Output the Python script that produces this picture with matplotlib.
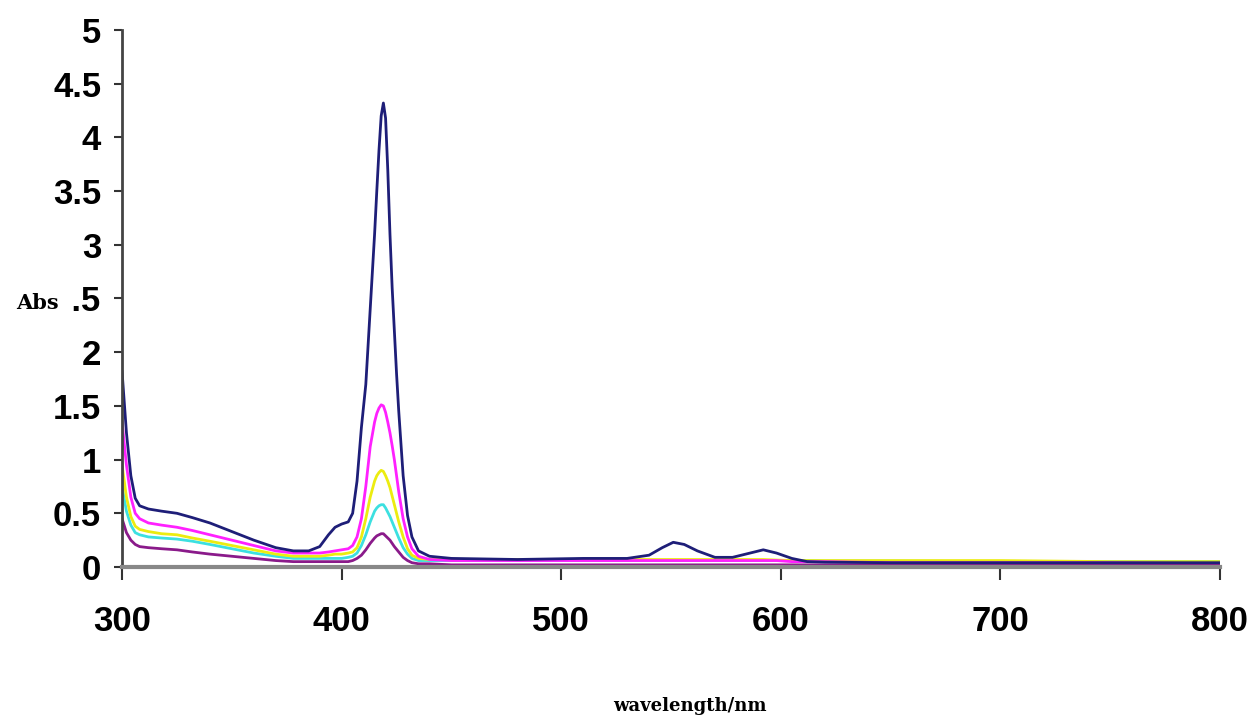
import matplotlib.pyplot as plt

wavelength = [300, 302, 304, 306, 308, 312, 318, 325, 332, 340, 350, 360, 370, 378, 385, 390,
              394, 397, 400, 403, 405, 407, 409, 411, 413, 415, 416, 417, 418, 419, 420, 421, 422,
              423, 424, 425, 426, 428, 430, 432, 435, 440, 450, 480, 510, 530, 540, 546, 551, 556, 562,
              570, 578, 586, 592, 598, 605, 612, 620, 650, 700, 750, 800]

abs_navy = [1.82, 1.25, 0.85, 0.64, 0.57, 0.54, 0.52, 0.50, 0.46, 0.41, 0.33, 0.25, 0.18, 0.15, 0.15, 0.19,
            0.30, 0.37, 0.40, 0.42, 0.50, 0.80, 1.30, 1.70, 2.40, 3.10, 3.50, 3.88, 4.20, 4.32, 4.18, 3.70, 3.10,
            2.60, 2.20, 1.80, 1.45, 0.85, 0.48, 0.28, 0.15, 0.10, 0.08, 0.07, 0.08, 0.08, 0.11, 0.18, 0.23, 0.21, 0.15,
            0.09, 0.09, 0.13, 0.16, 0.13, 0.08, 0.05, 0.045, 0.04, 0.04, 0.04, 0.04]

abs_magenta = [1.35, 0.95, 0.65, 0.50, 0.45, 0.41, 0.39, 0.37, 0.34, 0.30, 0.25, 0.20, 0.15, 0.13, 0.13, 0.13,
               0.14, 0.15, 0.16, 0.17, 0.20, 0.28, 0.45, 0.75, 1.12, 1.35, 1.43, 1.48, 1.51, 1.50, 1.44, 1.35, 1.25,
               1.13, 1.00, 0.85, 0.70, 0.45, 0.28, 0.17, 0.10, 0.07, 0.06, 0.06, 0.06, 0.06, 0.06, 0.06, 0.06, 0.06, 0.06,
               0.06, 0.06, 0.06, 0.06, 0.06, 0.05, 0.05, 0.05, 0.04, 0.04, 0.04, 0.03]

abs_yellow = [0.95, 0.65, 0.47, 0.38, 0.35, 0.33, 0.31, 0.30, 0.27, 0.24, 0.20, 0.16, 0.12, 0.10, 0.10, 0.10,
              0.11, 0.12, 0.12, 0.13, 0.14, 0.18, 0.28, 0.45, 0.65, 0.80, 0.85, 0.88, 0.90, 0.89, 0.85, 0.80, 0.74,
              0.66, 0.58, 0.50, 0.42, 0.28, 0.17, 0.11, 0.08, 0.07, 0.07, 0.07, 0.07, 0.07, 0.07, 0.07, 0.07, 0.07, 0.07,
              0.07, 0.07, 0.07, 0.07, 0.065, 0.06, 0.06, 0.06, 0.06, 0.06, 0.05, 0.05]

abs_cyan = [0.75, 0.52, 0.39, 0.32, 0.30, 0.28, 0.27, 0.26, 0.24, 0.21, 0.17, 0.13, 0.10, 0.08, 0.08, 0.08,
            0.08, 0.08, 0.08, 0.09, 0.10, 0.13, 0.20, 0.30, 0.42, 0.52, 0.55, 0.57, 0.58, 0.58, 0.55, 0.51, 0.47,
            0.42, 0.37, 0.32, 0.27, 0.18, 0.12, 0.08, 0.06, 0.06, 0.06, 0.06, 0.06, 0.06, 0.06, 0.06, 0.06, 0.06, 0.06,
            0.06, 0.06, 0.06, 0.06, 0.06, 0.06, 0.06, 0.055, 0.055, 0.05, 0.05, 0.05]

abs_purple = [0.45, 0.32, 0.25, 0.21, 0.19, 0.18, 0.17, 0.16, 0.14, 0.12, 0.10, 0.08, 0.06, 0.05, 0.05, 0.05,
              0.05, 0.05, 0.05, 0.05, 0.06, 0.08, 0.11, 0.16, 0.22, 0.27, 0.29, 0.30, 0.31, 0.31, 0.29, 0.27, 0.25,
              0.22, 0.19, 0.165, 0.14, 0.09, 0.06, 0.04, 0.03, 0.03, 0.02, 0.02, 0.02, 0.02, 0.02, 0.02, 0.02, 0.02, 0.02,
              0.02, 0.02, 0.02, 0.02, 0.02, 0.02, 0.02, 0.02, 0.02, 0.02, 0.02, 0.02]

x_ticks = [300, 400, 500, 600, 700, 800]
y_ticks = [0, 0.5, 1, 1.5, 2, 2.5, 3, 3.5, 4, 4.5, 5]
y_ticklabels = ["0", "0.5", "1", "1.5", "2", "2.5", "3", "3.5", "4", "4.5", "5"]

fig = plt.figure(figsize=(12.57, 7.19), dpi=100)
ax = fig.add_axes([0.0971, 0.2114, 0.8735, 0.7469])

series = [
    (abs_cyan, "#3ce0e0"),
    (abs_yellow, "#ecec10"),
    (abs_magenta, "#ff20ff"),
    (abs_purple, "#8a1a8a"),
    (abs_navy, "#1e1e78"),
]
for values, color in series:
    ax.plot(wavelength, values, color=color, linewidth=2)

ax.set_xlim(300, 800)
ax.set_ylim(0, 5)
ax.set_xticks(x_ticks)
ax.set_yticks(y_ticks)
ax.set_yticklabels(y_ticklabels)

for lbl in ax.get_xticklabels() + ax.get_yticklabels():
    lbl.set_fontfamily("Liberation Sans")
    lbl.set_fontweight("bold")
    lbl.set_fontsize(25)

ax.tick_params(axis="y", direction="out", length=6, width=1.5, color="#333333", pad=9)
ax.tick_params(axis="x", direction="out", length=9, width=1.5, color="#333333", pad=18)

for side in ["top", "right"]:
    ax.spines[side].set_visible(False)
ax.spines["left"].set_color("#444444")
ax.spines["left"].set_linewidth(2)
ax.spines["bottom"].set_color("#888888")
ax.spines["bottom"].set_linewidth(3)

fig.text(690 / 1257, 1 - 706 / 719, "wavelength/nm", ha="center", va="center",
         fontfamily="DejaVu Serif", fontweight="bold", fontsize=13)
fig.text(37 / 1257, 1 - 303 / 719, "Abs", ha="center", va="center",
         fontfamily="DejaVu Serif", fontweight="bold", fontsize=15,
         bbox=dict(facecolor="white", edgecolor="none", pad=9))

fig.savefig("out.png", dpi=100)
